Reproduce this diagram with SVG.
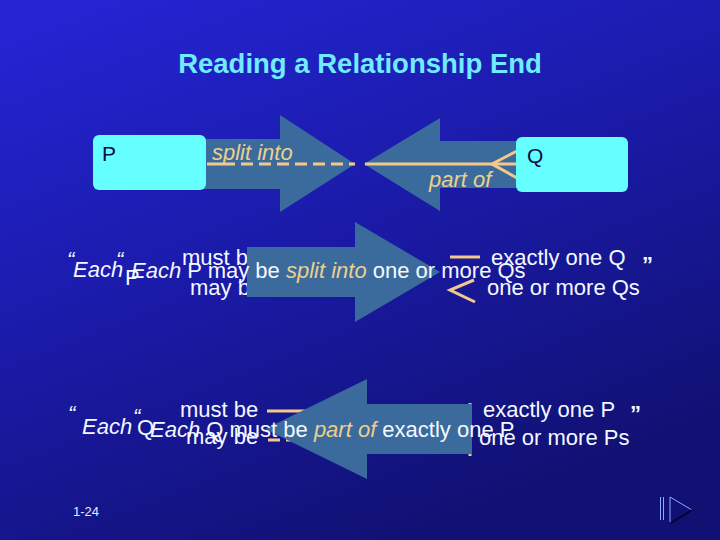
<svg xmlns="http://www.w3.org/2000/svg" width="720" height="540" viewBox="0 0 720 540">
<defs>
<linearGradient id="bg" x1="0.15" y1="0" x2="0.65" y2="0.95">
<stop offset="0" stop-color="#2424d2"/>
<stop offset="0.5" stop-color="#1a1aa6"/>
<stop offset="1" stop-color="#111174"/>
</linearGradient>
<style>
.t{font-family:"Liberation Sans",Arial,sans-serif;}
.w{fill:#f4f8ff;font-size:22px;}
.i{font-style:italic;}
.tan{fill:#ecd08e;}
.arr{fill:#3b6b9d;}
.ln{stroke:#f3c98a;stroke-width:3;fill:none;}
.dash{stroke-dasharray:12 6;}
.box{fill:#66ffff;}
.lbl{fill:#0b0b4a;font-size:21px;}
</style>
</defs>
<rect width="720" height="540" fill="url(#bg)"/>
<text class="t" x="360" y="73" text-anchor="middle" font-size="27.5" font-weight="bold" fill="#6fecff">Reading a Relationship End</text>

<g id="connectors">
<polygon id="arrow-right-top" class="arr" points="200,139 280,139 280,115 355,164 280,212 280,189 200,189"/>
<polygon id="arrow-left-top" class="arr" points="364,164 440,118 440,141 522,141 522,188 440,188 440,211"/>
<line class="ln" x1="207" y1="164" x2="235" y2="164"/>
<line class="ln dash" x1="241" y1="164" x2="355" y2="164"/>
<line class="ln" x1="365" y1="164" x2="517" y2="164"/>
<polyline class="ln" points="517,151 492,164 517,178"/>
<text class="t tan i" x="212" y="160" font-size="22">split into</text>
<text class="t tan i" x="429" y="187" font-size="22">part of</text>
</g>
<g id="node-P">
<rect class="box" x="93" y="135" width="113" height="55" rx="6"/>
<text class="t lbl" x="102" y="161">P</text>
</g>
<g id="node-Q">
<rect class="box" x="516" y="137" width="112" height="55" rx="6"/>
<text class="t lbl" x="527" y="163">Q</text>
</g>

<g id="reading-P">
<text class="t w i" x="67" y="267">“</text>
<text class="t w i" x="73" y="277">Each</text>
<text class="t w i" x="116" y="267">“</text>
<text class="t w" x="125" y="285" font-size="30">P</text>
<text class="t w" x="182" y="265">must be</text>
<text class="t w" x="190" y="295">may be</text>
<line class="ln" x1="252" y1="293" x2="262" y2="293"/>
<line class="ln" x1="450" y1="257" x2="480" y2="257"/>
<polyline class="ln" points="474,280 450,290 475,302"/>
<text class="t w" x="491" y="265">exactly one Q</text>
<text class="t w" x="487" y="295">one or more Qs</text>
<text class="t w" x="642" y="272" font-weight="bold">”</text>
<polygon class="arr" points="247,247 355,247 355,222 440,272 355,322 355,297 247,297"/>
<text class="t w" x="131" y="278"><tspan class="i">Each</tspan> P may be <tspan class="tan i">split into</tspan> one or more Qs</text>
</g>

<g id="reading-Q">
<text class="t w i" x="68" y="421">“</text>
<text class="t w i" x="82" y="434">Each</text>
<text class="t w i" x="133" y="424">“</text>
<text class="t w" x="137" y="435" font-size="25">Q</text>
<text class="t w" x="180" y="417">must be</text>
<text class="t w" x="186" y="444">may be</text>
<line class="ln" x1="267" y1="411" x2="340" y2="411"/>
<line class="ln dash" x1="268" y1="440" x2="340" y2="440" stroke-dasharray="8 5"/>
<line class="ln" x1="470" y1="403" x2="470" y2="408" stroke-width="2"/>
<line class="ln" x1="470" y1="451" x2="470" y2="456" stroke-width="2"/>
<text class="t w" x="483" y="417">exactly one P</text>
<text class="t w" x="479" y="445">one or more Ps</text>
<text class="t w" x="630" y="421" font-weight="bold">”</text>
<polygon class="arr" points="265,429 367,379 367,404 472,404 472,454 367,454 367,479"/>
<text class="t w" x="150" y="437"><tspan class="i">Each</tspan> Q must be <tspan class="tan i">part of</tspan> exactly one P</text>
</g>

<text class="t" x="73" y="516" font-size="13" fill="#e4e8ff">1-24</text>
<g id="nav">
<line x1="660.5" y1="497" x2="660.5" y2="520" stroke="#8fa6ff" stroke-width="1"/>
<line x1="663.5" y1="497" x2="663.5" y2="520" stroke="#8fa6ff" stroke-width="1"/>
<polyline points="670,522 670,497 692,510" fill="none" stroke="#8fa6ff" stroke-width="1"/>
<polyline points="692,510 671,523" fill="none" stroke="#05052a" stroke-width="2"/>
</g>
</svg>
